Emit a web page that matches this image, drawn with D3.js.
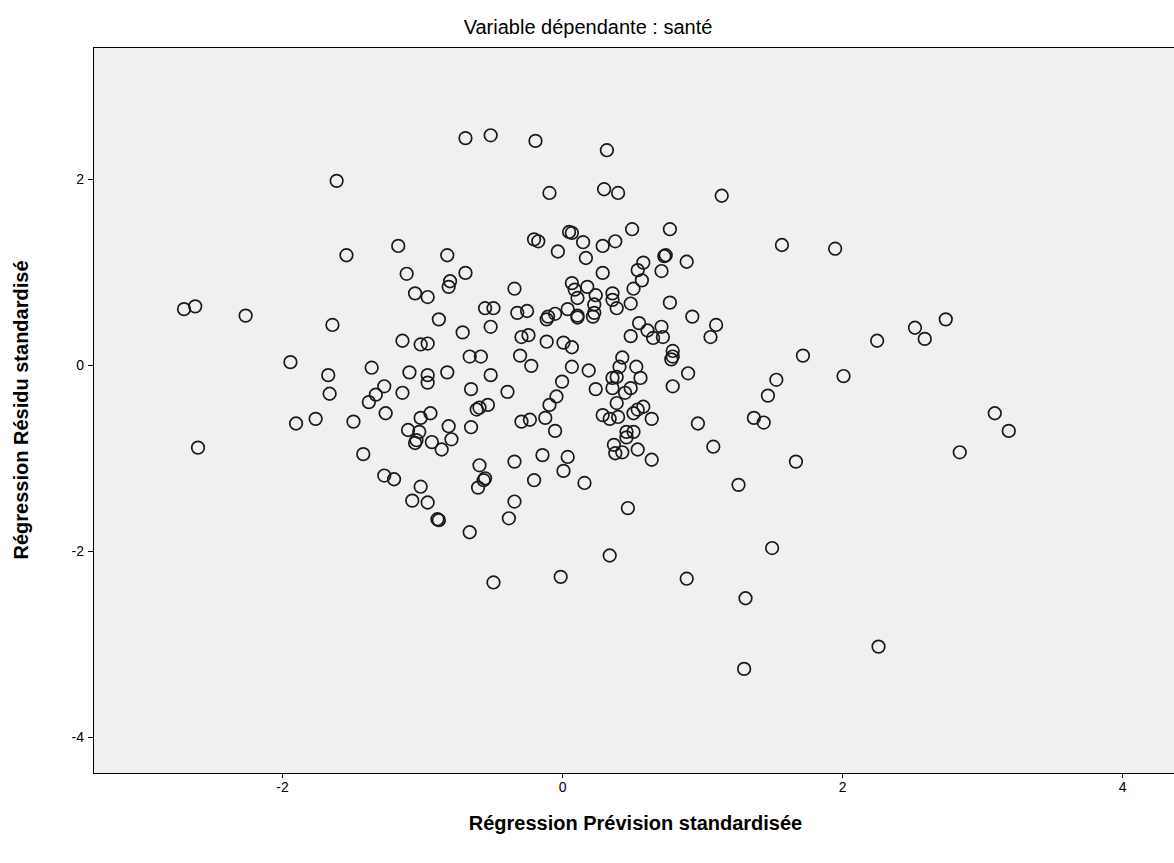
<!DOCTYPE html>
<meta charset="utf-8">
<style>
  body { margin: 0; background: #fff; }
  text { font-family: "Liberation Sans", Arial, sans-serif; }
</style>
<script src="https://d3js.org/d3.v7.min.js"></script>
<div id="chart"></div>
<script>
    // values (standardized predicted value, standardized residual)
    const predicted = [
        -2.70, -2.62, -2.60, -2.26, -1.94, -1.90, -1.76, -1.67, -1.66, -1.64,
        -1.61, -1.54, -1.49, -1.42, -1.36, -1.38, -1.33, -1.27, -1.26, -1.27,
        -1.20, -1.17, -1.14, -1.14, -1.11, -1.09, -1.10, -1.07, -1.05, -1.05,
        -1.04, -1.02, -1.01, -1.01, -1.01, -0.96, -0.96, -0.96, -0.96, -0.96,
        -0.94, -0.93, -0.89, -0.88, -0.88, -0.86, -0.82, -0.82, -0.81, -0.80,
        -0.81, -0.79, -0.69, -0.71, -0.69, -0.66, -0.66, -0.65, -0.65, -0.61,
        -0.59, -0.58, -0.60, -0.59, -0.56, -0.55, -0.55, -0.53, -0.51, -0.51,
        -0.51, -0.49, -0.49, -0.39, -0.38, -0.34, -0.34, -0.34, -0.32, -0.30,
        -0.29, -0.29, -0.25, -0.24, -0.23, -0.22, -0.20, -0.17, -0.20, -0.19,
        -0.14, -0.12, -0.11, -0.11, -0.10, -0.09, -0.09, -0.05, -0.05, -0.04,
        -0.03, -0.01, 0.00, 0.01, 0.01, 0.04, 0.04, 0.05, 0.07, 0.07,
        0.07, 0.07, 0.09, 0.11, 0.11, 0.11, 0.15, 0.16, 0.17, 0.18,
        0.19, 0.22, 0.23, 0.23, 0.24, 0.24, 0.29, 0.29, 0.29, 0.30,
        0.32, 0.34, 0.34, 0.36, 0.36, 0.36, 0.36, 0.37, 0.38, 0.38,
        0.39, 0.39, 0.39, 0.40, 0.40, 0.41, 0.43, 0.43, 0.45, 0.46,
        0.46, 0.47, 0.49, 0.49, 0.49, 0.50, 0.51, 0.51, 0.51, 0.53,
        0.54, 0.54, 0.54, 0.55, 0.56, 0.57, 0.58, 0.58, 0.61, 0.64,
        0.64, 0.65, 0.71, 0.71, 0.72, 0.73, 0.74, 0.77, 0.77, 0.79,
        0.79, 0.78, 0.79, 0.89, 0.89, 0.90, 0.93, 0.97, 1.06, 1.08,
        1.10, 1.14, 1.26, 1.31, 1.30, 1.37, 1.44, 1.47, 1.50, 1.53,
        1.57, 1.67, 1.72, 1.95, 2.01, 2.25, 2.26, 2.52, 2.59, 2.74,
        2.84, 3.09, 3.19
    ];
    const residual = [
        0.60, 0.63, -0.89, 0.53, 0.03, -0.63, -0.58, -0.11, -0.31, 0.43,
        1.98, 1.18, -0.61, -0.96, -0.03, -0.40, -0.32, -0.23, -0.52, -1.19,
        -1.23, 1.28, -0.30, 0.26, 0.98, -0.08, -0.70, -1.46, 0.77, -0.84,
        -0.81, -0.72, -1.31, 0.22, -0.57, 0.23, -1.48, 0.73, -0.11, -0.19,
        -0.52, -0.83, -1.66, -1.67, 0.49, -0.91, 1.18, -0.08, 0.84, 0.90,
        -0.66, -0.80, 0.99, 0.35, 2.44, -1.80, 0.09, -0.26, -0.67, -0.48,
        -0.46, 0.09, -1.32, -1.08, -1.24, -1.22, 0.61, -0.43, -0.11, 2.47,
        0.41, 0.61, -2.34, -0.29, -1.65, 0.82, -1.47, -1.04, 0.56, 0.10,
        0.30, -0.61, 0.58, 0.32, -0.59, -0.01, 1.35, 1.33, -1.24, 2.41,
        -0.97, -0.57, 0.25, 0.49, 0.52, 1.85, -0.43, 0.55, -0.71, -0.34,
        1.22, -2.28, -0.18, -1.14, 0.24, 0.60, -0.99, 1.43, 1.42, 0.88,
        0.19, -0.02, 0.81, 0.51, 0.53, 0.72, 1.32, -1.27, 1.15, 0.84,
        -0.06, 0.52, 0.56, 0.65, 0.75, -0.26, 1.28, 0.99, -0.54, 1.89,
        2.31, -0.58, -2.05, 0.70, -0.14, 0.77, -0.25, -0.86, 1.33, -0.95,
        0.61, -0.13, -0.41, 1.85, -0.56, -0.02, 0.08, -0.94, -0.30, -0.72,
        -0.78, -1.54, 0.66, 0.31, -0.25, 1.46, 0.82, -0.52, -0.72, -0.02,
        1.02, -0.48, -0.91, 0.45, -0.14, 0.91, 1.10, -0.45, 0.37, -0.58,
        -1.02, 0.29, 1.01, 0.41, 0.30, 1.17, 1.18, 1.46, 0.67, 0.15,
        0.09, 0.06, -0.23, 1.11, -2.30, -0.09, 0.52, -0.63, 0.30, -0.88,
        0.43, 1.82, -1.29, -2.51, -3.27, -0.57, -0.62, -0.33, -1.97, -0.16,
        1.29, -1.04, 0.10, 1.25, -0.12, 0.26, -3.03, 0.40, 0.28, 0.49,
        -0.94, -0.52, -0.71
    ];
    const xTicks = [-2, 0, 2, 4];
    const yTicks = [-4, -2, 0, 2];
    const xDomain = [-3.35, 4.37];
    const yDomain = [-4.39, 3.42];

    const title = "Variable dépendante : santé";
    const xTitle = "Régression Prévision standardisée";
    const yTitle = "Régression Résidu standardisé";

    const W = 1174, H = 863;
    const margin = {top: 47, right: 0, bottom: 90, left: 93};
    const width = W - margin.left - margin.right;
    const height = H - margin.top - margin.bottom;

    const svg = d3.select("#chart")
        .append("svg")
        .attr("width", W)
        .attr("height", H);

    const g = svg.append("g")
        .attr("transform", "translate(" + margin.left + "," + margin.top + ")");

    const x = d3.scaleLinear().domain(xDomain).range([0, width]);
    const y = d3.scaleLinear().domain(yDomain).range([height, 0]);

    // plot background
    g.append("rect")
        .attr("x", 0).attr("y", 0)
        .attr("width", width).attr("height", height)
        .attr("fill", "#f0f0f0")
        .attr("stroke", "#000")
        .attr("stroke-width", 1)
        .attr("shape-rendering", "crispEdges");

    // axes (plain hyphen for negatives, like the original)
    const fmt = function (d) { return String(d); };
    const xAxis = g.append("g")
        .attr("transform", "translate(0," + height + ")")
        .call(d3.axisBottom(x).tickValues(xTicks).tickFormat(fmt).tickSize(5).tickPadding(4));
    const yAxis = g.append("g")
        .call(d3.axisLeft(y).tickValues(yTicks).tickFormat(fmt).tickSize(5).tickPadding(4));

    [xAxis, yAxis].forEach(function (a) {
        a.select(".domain").remove();
        a.selectAll("line").attr("stroke", "#000").attr("shape-rendering", "crispEdges");
        a.selectAll("text")
            .attr("font-family", "'Liberation Sans', Arial, sans-serif")
            .attr("font-size", "14px")
            .attr("fill", "#000");
    });

    // points
    const pts = predicted.map(function (d, i) { return [d, residual[i]]; });
    g.selectAll("circle.pt")
        .data(pts)
        .enter()
        .append("circle")
        .attr("class", "pt")
        .attr("cx", function (d) { return x(d[0]); })
        .attr("cy", function (d) { return y(d[1]); })
        .attr("r", 6.3)
        .attr("fill", "none")
        .attr("stroke", "#1a1a1a")
        .attr("stroke-width", 1.7);

    // titles
    svg.append("text")
        .attr("x", 588).attr("y", 34)
        .attr("text-anchor", "middle")
        .attr("font-size", "20px")
        .attr("fill", "#000")
        .text(title);

    svg.append("text")
        .attr("x", margin.left + width / 2 + 2).attr("y", 830)
        .attr("text-anchor", "middle")
        .attr("font-size", "20px")
        .attr("font-weight", "bold")
        .attr("fill", "#000")
        .text(xTitle);

    svg.append("text")
        .attr("transform", "translate(28," + (margin.top + height / 2) + ") rotate(-90)")
        .attr("text-anchor", "middle")
        .attr("font-size", "20px")
        .attr("font-weight", "bold")
        .attr("fill", "#000")
        .text(yTitle);
</script>
